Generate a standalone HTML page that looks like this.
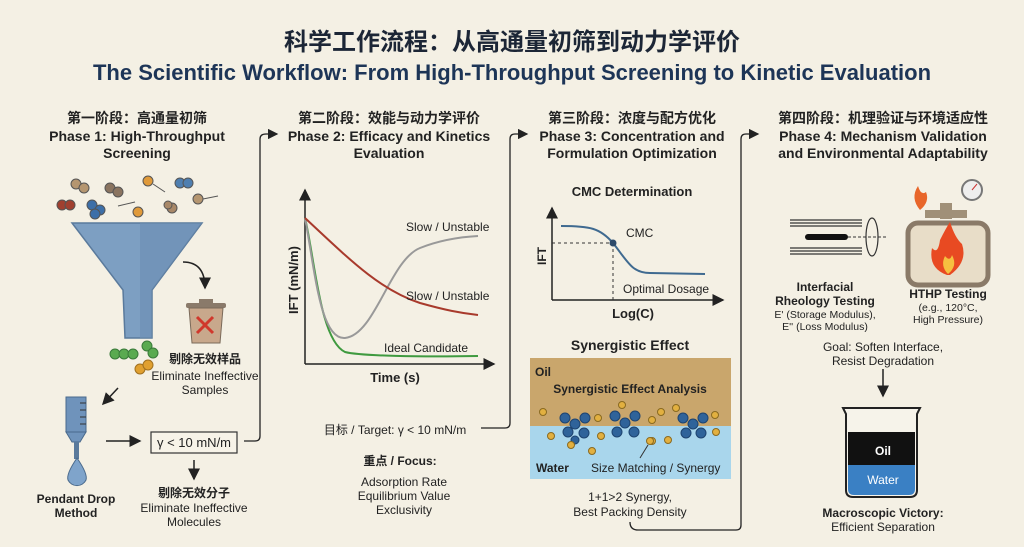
<!DOCTYPE html>
<html><head><meta charset="utf-8"><style>
html,body{margin:0;padding:0;background:#f4f0e4;}
svg{display:block;}
text{font-family:"Liberation Sans","Noto Sans CJK SC",sans-serif;fill:#222;}
.b{font-weight:bold;}
</style></head><body>
<svg width="1024" height="547" viewBox="0 0 1024 547" xmlns="http://www.w3.org/2000/svg">
<defs>
<marker id="ar" markerWidth="8" markerHeight="8" refX="7" refY="4" orient="auto"><path d="M0,0 L8,4 L0,8 z" fill="#222"/></marker>
</defs>
<rect width="1024" height="547" fill="#f4f0e4"/>
<text x="512" y="50" text-anchor="middle" class="b" font-size="24" style="fill:#1c2636">科学工作流程：从高通量初筛到动力学评价</text>
<text x="512" y="80" text-anchor="middle" class="b" font-size="22" style="fill:#1d3557">The Scientific Workflow: From High-Throughput Screening to Kinetic Evaluation</text>

<g class="b" font-size="14" text-anchor="middle">
<text x="137" y="123">第一阶段：高通量初筛</text>
<text x="137" y="141">Phase 1: High-Throughput</text>
<text x="137" y="158">Screening</text>
<text x="389" y="123">第二阶段：效能与动力学评价</text>
<text x="389" y="141">Phase 2: Efficacy and Kinetics</text>
<text x="389" y="158">Evaluation</text>
<text x="632" y="123">第三阶段：浓度与配方优化</text>
<text x="632" y="141">Phase 3: Concentration and</text>
<text x="632" y="158">Formulation Optimization</text>
<text x="883" y="123">第四阶段：机理验证与环境适应性</text>
<text x="883" y="141">Phase 4: Mechanism Validation</text>
<text x="883" y="158">and Environmental Adaptability</text>
</g>

<!-- Phase 1 molecules -->
<g stroke="#555" stroke-width="1">
<circle cx="76" cy="184" r="5" fill="#b59670"/><circle cx="84" cy="188" r="5" fill="#b59670"/>
<circle cx="110" cy="188" r="5" fill="#8a7460"/><circle cx="118" cy="192" r="5" fill="#8a7460"/>
<circle cx="148" cy="181" r="5" fill="#e09a3a"/><line x1="153" y1="184" x2="165" y2="192"/>
<circle cx="180" cy="183" r="5" fill="#4f7fb0"/><circle cx="188" cy="183" r="5" fill="#4f7fb0"/>
<circle cx="62" cy="205" r="5" fill="#a04030"/><circle cx="70" cy="205" r="5" fill="#a04030"/>
<circle cx="92" cy="205" r="5" fill="#3d6fa8"/><circle cx="100" cy="210" r="5" fill="#3d6fa8"/><circle cx="95" cy="214" r="5" fill="#3d6fa8"/>
<line x1="118" y1="206" x2="135" y2="202"/><circle cx="138" cy="212" r="5" fill="#e09a3a"/>
<circle cx="172" cy="208" r="5" fill="#a88868"/><circle cx="168" cy="205" r="4" fill="#a88868"/>
<circle cx="198" cy="199" r="5" fill="#b59670"/><line x1="203" y1="199" x2="218" y2="196"/>
</g>
<!-- funnel -->
<path d="M72,223 L202,223 L152,290 L152,338 L125,338 L123,290 Z" fill="#7d9fc2" stroke="#5a7a9c" stroke-width="1.5"/>
<path d="M140,223 L202,223 L152,290 L152,338 L140,338 Z" fill="#6a8db2" opacity="0.6"/>
<path d="M183,262 Q205,262 205,288" fill="none" stroke="#222" stroke-width="1.5" marker-end="url(#ar)"/>
<!-- trash -->
<rect x="199" y="299" width="14" height="5" fill="#8a7a6a"/>
<rect x="186" y="303" width="40" height="5" rx="2" fill="#8a7a6a"/>
<path d="M189,308 L223,308 L220,343 L192,343 Z" fill="#c8a88c" stroke="#7a6a5a"/>
<path d="M197,317 L213,333 M213,317 L197,333" stroke="#d0382c" stroke-width="3"/>
<g text-anchor="middle" font-size="12"><text x="205" y="363" class="b">剔除无效样品</text><text x="205" y="380">Eliminate Ineffective</text><text x="205" y="394">Samples</text></g>
<g stroke="#3a7a3a" fill="#5aaa50"><circle cx="115" cy="354" r="5"/><circle cx="124" cy="354" r="5"/><circle cx="133" cy="354" r="5"/><circle cx="147" cy="346" r="5"/><circle cx="153" cy="353" r="5"/></g>
<g stroke="#a07020" fill="#e0a030"><circle cx="140" cy="369" r="5"/><circle cx="148" cy="365" r="5"/></g>
<line x1="118" y1="388" x2="103" y2="404" stroke="#222" stroke-width="1.5" marker-end="url(#ar)"/>
<!-- syringe -->
<rect x="66" y="397" width="20" height="35" fill="#6f93bb" stroke="#4a6a8c"/>
<g stroke="#333"><line x1="80" y1="403" x2="86" y2="403"/><line x1="80" y1="410" x2="86" y2="410"/><line x1="80" y1="417" x2="86" y2="417"/><line x1="80" y1="424" x2="86" y2="424"/></g>
<path d="M66,432 L86,432 L80,442 L72,442 Z" fill="#6f93bb" stroke="#4a6a8c"/>
<rect x="74" y="442" width="5" height="17" fill="#5a7a9c"/>
<path d="M77,458 Q66,474 68,480 A10,10 0 0 0 86,480 Q88,474 77,458 Z" fill="#7fa4cb" stroke="#4a6a8c"/>
<g text-anchor="middle" font-size="12" class="b"><text x="76" y="503">Pendant Drop</text><text x="76" y="517">Method</text></g>
<line x1="106" y1="441" x2="140" y2="441" stroke="#222" stroke-width="1.5" marker-end="url(#ar)"/>
<rect x="151" y="432" width="86" height="21" fill="#f7f3e8" stroke="#333" stroke-width="1.2"/>
<text x="194" y="447" text-anchor="middle" font-size="13">γ &lt; 10 mN/m</text>
<line x1="194" y1="460" x2="194" y2="479" stroke="#222" stroke-width="1.5" marker-end="url(#ar)"/>
<g text-anchor="middle" font-size="12"><text x="194" y="497" class="b">剔除无效分子</text><text x="194" y="512">Eliminate Ineffective</text><text x="194" y="526">Molecules</text></g>
<path d="M244,441 L255,441 Q260,441 260,436 L260,139 Q260,134 266,134 L277,134" fill="none" stroke="#222" stroke-width="1.3" marker-end="url(#ar)"/>

<!-- Phase 2 chart -->
<line x1="305" y1="364" x2="305" y2="190" stroke="#222" stroke-width="1.5" marker-end="url(#ar)"/>
<line x1="305" y1="364" x2="494" y2="364" stroke="#222" stroke-width="1.5" marker-end="url(#ar)"/>
<path d="M305,218 C315,260 320,340 345,352 C360,356 420,357 478,356" fill="none" stroke="#3f9a3f" stroke-width="2"/>
<path d="M305,218 C315,270 320,340 345,338 C375,335 390,260 420,248 C440,240 460,237 478,236" fill="none" stroke="#999" stroke-width="2"/>
<path d="M305,218 C350,260 380,290 420,303 C445,310 460,313 478,315" fill="none" stroke="#a83a2c" stroke-width="2"/>
<g font-size="12" style="fill:#333"><text x="406" y="231">Slow / Unstable</text><text x="406" y="300">Slow / Unstable</text><text x="384" y="352">Ideal Candidate</text></g>
<text transform="translate(298,280) rotate(-90)" text-anchor="middle" font-size="13" class="b">IFT (mN/m)</text>
<text x="395" y="382" text-anchor="middle" font-size="13" class="b">Time (s)</text>
<text x="395" y="434" text-anchor="middle" font-size="12">目标 / Target: γ &lt; 10 mN/m</text>
<path d="M481,428 L505,428 Q510,428 510,423 L510,139 Q510,134 515,134 L527,134" fill="none" stroke="#222" stroke-width="1.3" marker-end="url(#ar)"/>
<g text-anchor="middle" font-size="12"><text x="400" y="465" class="b">重点 / Focus:</text><text x="404" y="486">Adsorption Rate</text><text x="404" y="500">Equilibrium Value</text><text x="404" y="514">Exclusivity</text></g>

<!-- Phase 3 -->
<text x="632" y="196" text-anchor="middle" font-size="13" class="b">CMC Determination</text>
<line x1="552" y1="300" x2="552" y2="208" stroke="#222" stroke-width="1.5" marker-end="url(#ar)"/>
<line x1="552" y1="300" x2="723" y2="300" stroke="#222" stroke-width="1.5" marker-end="url(#ar)"/>
<path d="M561,226 C590,226 600,228 613,243 C628,262 632,273 650,273 L705,274" fill="none" stroke="#3f6a90" stroke-width="2"/>
<line x1="552" y1="243" x2="613" y2="243" stroke="#333" stroke-dasharray="3,3"/>
<line x1="613" y1="243" x2="613" y2="300" stroke="#333" stroke-dasharray="3,3"/>
<circle cx="613" cy="243" r="3.5" fill="#2c4a6a"/>
<text x="626" y="237" font-size="12">CMC</text>
<text transform="translate(546,256) rotate(-90)" text-anchor="middle" font-size="12" class="b">IFT</text>
<text x="623" y="293" font-size="12">Optimal Dosage</text>
<text x="633" y="318" text-anchor="middle" font-size="13" class="b">Log(C)</text>
<text x="630" y="350" text-anchor="middle" font-size="14" class="b">Synergistic Effect</text>
<rect x="530" y="358" width="201" height="68" fill="#c9a66c"/>
<rect x="530" y="426" width="201" height="53" fill="#a9d6ec"/>
<text x="535" y="376" font-size="12" class="b">Oil</text>
<text x="630" y="393" text-anchor="middle" font-size="12" class="b">Synergistic Effect Analysis</text>
<g fill="#2f639a" stroke="#1e4470">
<circle cx="575" cy="424" r="5"/><circle cx="565" cy="418" r="5"/><circle cx="585" cy="418" r="5"/><circle cx="568" cy="432" r="5"/><circle cx="584" cy="433" r="5"/><circle cx="575" cy="440" r="4"/>
<circle cx="625" cy="423" r="5"/><circle cx="615" cy="416" r="5"/><circle cx="635" cy="416" r="5"/><circle cx="617" cy="432" r="5"/><circle cx="634" cy="432" r="5"/>
<circle cx="693" cy="424" r="5"/><circle cx="683" cy="418" r="5"/><circle cx="703" cy="418" r="5"/><circle cx="686" cy="433" r="5"/><circle cx="701" cy="433" r="5"/>
</g>
<g fill="#e2b040" stroke="#8a6a20"><circle cx="543" cy="412" r="3.5"/><circle cx="551" cy="436" r="3.5"/><circle cx="571" cy="445" r="3.5"/><circle cx="592" cy="451" r="3.5"/><circle cx="598" cy="418" r="3.5"/><circle cx="622" cy="405" r="3.5"/><circle cx="601" cy="436" r="3.5"/><circle cx="652" cy="420" r="3.5"/><circle cx="652" cy="441" r="3.5"/><circle cx="661" cy="412" r="3.5"/><circle cx="676" cy="408" r="3.5"/><circle cx="668" cy="440" r="3.5"/><circle cx="715" cy="415" r="3.5"/><circle cx="716" cy="432" r="3.5"/><circle cx="650" cy="441" r="3.5"/></g>
<line x1="648" y1="445" x2="640" y2="458" stroke="#333"/>
<text x="536" y="472" font-size="12" class="b">Water</text>
<text x="591" y="472" font-size="12">Size Matching / Synergy</text>
<g text-anchor="middle" font-size="12"><text x="630" y="501">1+1&gt;2 Synergy,</text><text x="630" y="516">Best Packing Density</text></g>
<path d="M630,522 Q630,530 638,530 L736,530 Q741,530 741,525 L741,139 Q741,134 746,134 L758,134" fill="none" stroke="#222" stroke-width="1.3" marker-end="url(#ar)"/>

<!-- Phase 4 -->
<g stroke="#333" stroke-width="1.2"><line x1="790" y1="220" x2="862" y2="220"/><line x1="790" y1="223" x2="862" y2="223"/><line x1="790" y1="226" x2="862" y2="226"/><line x1="790" y1="248" x2="862" y2="248"/><line x1="790" y1="251" x2="862" y2="251"/><line x1="790" y1="254" x2="862" y2="254"/></g>
<rect x="805" y="234" width="43" height="6" rx="3" fill="#111"/>
<line x1="848" y1="237" x2="888" y2="237" stroke="#333" stroke-dasharray="3,2"/>
<ellipse cx="872" cy="237" rx="6" ry="19" fill="none" stroke="#333" stroke-width="1.2"/>
<rect x="908" y="223" width="80" height="62" rx="10" fill="#e8ddc8" stroke="#8a7a68" stroke-width="5"/>
<rect x="940" y="203" width="12" height="16" fill="#a09078"/><rect x="925" y="210" width="42" height="8" fill="#a09078"/>
<circle cx="972" cy="190" r="10" fill="#eee" stroke="#777" stroke-width="2"/><line x1="972" y1="190" x2="977" y2="184" stroke="#c33"/>
<path d="M920,210 Q910,198 918,186 Q921,196 926,192 Q930,202 920,210Z" fill="#e8662a"/>
<path d="M947,275 Q928,268 932,248 Q938,255 940,240 Q946,228 950,222 Q955,238 962,244 Q968,262 950,275Z" fill="#e84a22"/>
<path d="M948,274 Q940,266 945,256 Q950,262 952,255 Q958,266 948,274Z" fill="#f6c040"/>
<g text-anchor="middle"><text x="825" y="291" font-size="12" class="b">Interfacial</text><text x="825" y="305" font-size="12" class="b">Rheology Testing</text><text x="825" y="318" font-size="10.5">E' (Storage Modulus),</text><text x="825" y="330" font-size="10.5">E'' (Loss Modulus)</text>
<text x="948" y="298" font-size="12" class="b">HTHP Testing</text><text x="948" y="311" font-size="10.5">(e.g., 120°C,</text><text x="948" y="323" font-size="10.5">High Pressure)</text>
<text x="883" y="351" font-size="12">Goal: Soften Interface,</text><text x="883" y="365" font-size="12">Resist Degradation</text></g>
<line x1="883" y1="369" x2="883" y2="396" stroke="#222" stroke-width="1.5" marker-end="url(#ar)"/>
<path d="M843,408 L920,408 L917,414 L917,490 Q917,497 910,497 L853,497 Q846,497 846,490 L846,414 Z" fill="#f6f3ea" stroke="#222" stroke-width="2"/>
<rect x="848" y="432" width="67" height="33" fill="#111"/>
<path d="M848,465 L915,465 L915,489 Q915,495 909,495 L854,495 Q848,495 848,489 Z" fill="#3a80c4"/>
<text x="883" y="455" text-anchor="middle" font-size="12" class="b" style="fill:#fff">Oil</text>
<text x="883" y="484" text-anchor="middle" font-size="12" style="fill:#fff">Water</text>
<g text-anchor="middle" font-size="12"><text x="883" y="517" class="b">Macroscopic Victory:</text><text x="883" y="531">Efficient Separation</text></g>
</svg>
</body></html>
